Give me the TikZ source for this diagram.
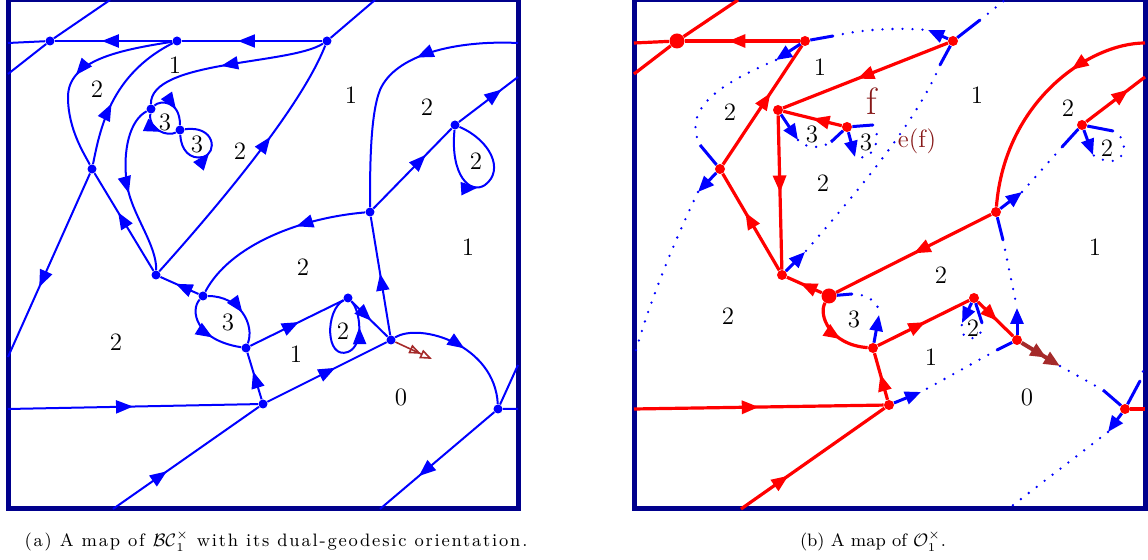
\documentclass[tikz,border=0pt]{standalone}
\usepackage{amsfonts,amssymb,amsmath}
\usepackage{fontspec}
\newfontfamily\captfont[LetterSpace=10]{Latin Modern Roman}
\usepackage{xcolor}
\usepackage{tikz}
\usetikzlibrary{arrows.meta,decorations.markings}
\definecolor{framecol}{RGB}{0,0,140}
\definecolor{rootcol}{RGB}{165,42,42}
\definecolor{fcol}{RGB}{135,25,25}
\tikzset{
arr/.style={postaction={decorate},decoration={markings,mark=at position #1 with {\arrow{Triangle[length=8.5pt,width=6.5pt]}}}},
bedge/.style={blue,line width=1pt},
redge/.style={red,line width=1.6pt},
bvtx/.style={circle,fill=blue,inner sep=0pt,minimum size=4.5pt},
rvtx/.style={circle,fill=red,inner sep=0pt,minimum size=5pt},
bigvtx/.style={circle,fill=red,inner sep=0pt,minimum size=7.5pt},
stub/.style={blue,line width=1.5pt},
barrow/.style={blue,line width=1.5pt,-{Triangle[length=8pt,width=6.5pt]}},
dots/.style={blue,line width=1.3pt,line cap=round,dash pattern=on 0pt off 5pt},
lab/.style={font=\fontsize{12.5}{14}\selectfont},
capt/.style={font=\fontsize{9}{11}\selectfont}
}
\begin{document}
\begin{tikzpicture}[x=0.5pt,y=-0.5pt]
\useasboundingbox (0,0) rectangle (1148,560);
%% (a)
\draw[framecol,line width=2.5pt](8,0) rectangle (518,509);
\node[bvtx](l1) at (50,41){}; \node[bvtx](l2) at (177,41){}; \node[bvtx](l3) at (327,41){};
\node[bvtx](l4) at (151,109){}; \node[bvtx](l5) at (180,130){}; \node[bvtx](l6) at (92,169){};
\node[bvtx](l7) at (455,125){}; \node[bvtx](l8) at (370,212){}; \node[bvtx](l9) at (156,275){};
\node[bvtx](l10) at (203,296){}; \node[bvtx](l11) at (246,348){}; \node[bvtx](l12) at (348,298){};
\node[bvtx](l13) at (391,340){}; \node[bvtx](l14) at (263,404){}; \node[bvtx](l15) at (498,409){};
\coordinate (lb1) at (8,43); \coordinate (lb2) at (8,74); \coordinate (lb3) at (8,357);
\coordinate (lb4) at (8,409); \coordinate (lt1) at (110,0); \coordinate (lt2) at (375,0);
\coordinate (lr1) at (518,43); \coordinate (lr2) at (518,77); \coordinate (lr3) at (518,409);
\coordinate (lr4) at (518,365); \coordinate (ld1) at (113,509); \coordinate (ld2) at (380,509);
\coordinate (lroot) at (432,359);
\draw[bedge](lb1)--(l1);
\draw[bedge,arr=0.6](l2)--(l1);
\draw[bedge,arr=0.6](l3)--(l2);
\draw[bedge](lb2)--(l1)--(lt1);
\draw[bedge](l3)--(lt2);
\draw[bedge,arr=0.52](l2) .. controls (120,50) and (68,60) .. (68,97) .. controls (68,130) and (85,155) .. (l6);
\draw[bedge,arr=0.42](l6) .. controls (100,130) and (110,75) .. (l2);
\draw[bedge,arr=0.6](l9)--(l6);
\draw[bedge,arr=0.62](l6)--(lb3);
\draw[bedge,arr=0.55](l3) .. controls (290,65) and (150,60) .. (l4);
\draw[bedge,arr=0.6](l4) .. controls (160,100) and (180,100) .. (l5);
\draw[bedge,arr=0.6](l4) .. controls (148,130) and (168,137) .. (l5);
\draw[bedge,arr=0.5](l5) .. controls (181,150) and (190,160) .. (203,157) .. controls (218,153) and (215,125) .. (l5);
\draw[bedge,arr=0.52](l4) .. controls (130,120) and (122,150) .. (127,185) .. controls (132,215) and (157,245) .. (l9);
\draw[bedge,arr=0.62](l9) .. controls (210,215) and (300,110) .. (l3);
\draw[bedge,arr=0.38](lr1) .. controls (455,40) and (395,55) .. (380,90) .. controls (370,115) and (370,170) .. (l8);
\draw[bedge,arr=0.67](l8)--(l7);
\draw[bedge,arr=0.72](l7)--(lr2);
\draw[bedge,arr=0.45](l7) .. controls (450,175) and (470,195) .. (485,185) .. controls (505,170) and (490,140) .. (l7);
\draw[bedge,arr=0.38](l8) .. controls (300,218) and (230,245) .. (l10);
\draw[bedge,arr=0.52](l13)--(l8);
\draw[bedge,arr=0.6](l10)--(l9);
\draw[bedge,arr=0.55](l10) .. controls (240,296) and (255,325) .. (l11);
\draw[bedge,arr=0.6](l10) .. controls (190,310) and (195,340) .. (l11);
\draw[bedge,arr=0.6](l14)--(l11);
\draw[bedge,arr=0.52](l11)--(l12);
\draw[bedge,arr=0.78](l12) .. controls (325,310) and (325,360) .. (348,352) .. controls (365,345) and (360,310) .. (l12);
\draw[bedge,arr=0.55](l12)--(l13);
\draw[bedge,arr=0.57](l14)--(l13);
\draw[bedge,arr=0.52](l13) .. controls (420,322) and (495,345) .. (l15);
\draw[bedge](l15)--(lr3) (l15)--(lr4);
\draw[bedge,arr=0.66](l15)--(ld2);
\draw[bedge,arr=0.5](lb4)--(l14);
\draw[bedge,arr=0.37](ld1)--(l14);
\draw[rootcol,line width=0.8pt,-{Triangle[open,length=6pt,width=4.5pt] Triangle[open,length=6pt,width=4.5pt]}](l13)--(lroot);
\foreach \x/\y/\t [count=\i] in {175/65/1,97/89/2,165/122/3,197/144/3,240/151/2,351/95/1,427/107/2,476/161/2,
  468/247/1,303/267/2,228/322/3,343/331/2,296/354/1,116/342/2,401/397/0}
  \node[lab](la\i) at (\x,\y){\t};
\node[capt](capa) at (276,541){\captfont(a) A map of $\mathcal{BC}_1^{\times}$ with its dual-geodesic orientation.};
%% (b)
\draw[framecol,line width=2.5pt](634,0) rectangle (1145,509);
\node[bigvtx](r1) at (677,41){}; \node[rvtx](r2) at (805,41){}; \node[rvtx](r3) at (953,41){};
\node[rvtx](r4) at (778,110){}; \node[rvtx](r5) at (847,127){}; \node[rvtx](r6) at (720,169){};
\node[rvtx](r7) at (1082,125){}; \node[rvtx](r8) at (996,212){}; \node[rvtx](r9) at (782,275){};
\node[bigvtx](r10) at (829,296){}; \node[rvtx](r11) at (873,348){}; \node[rvtx](r12) at (974,298){};
\node[rvtx](r13) at (1017,340){}; \node[rvtx](r14) at (889,405){}; \node[rvtx](r15) at (1125,409){};
\coordinate (rb1) at (634,43); \coordinate (rb2) at (634,74); \coordinate (rb3) at (634,409);
\coordinate (rb4) at (634,357); \coordinate (rt1) at (738,0); \coordinate (rt2) at (1005,0);
\coordinate (rr1) at (1145,43); \coordinate (rr2) at (1145,77); \coordinate (rr3) at (1145,409);
\coordinate (rr4) at (1145,365); \coordinate (rd1) at (741,509); \coordinate (rd2) at (1008,509);
\coordinate (rroot) at (1060,366);
\draw[redge](rb1)--(r1);
\draw[redge](rb2)--(r1)--(rt1);
\draw[redge,arr=0.62](r2)--(r1);
\draw[redge,arr=0.6](r6)--(r2);
\draw[redge,arr=0.55](r3)--(r4);
\draw[redge,arr=0.5](r5)--(r4);
\draw[redge,arr=0.5](r4)--(r9);
\draw[redge,arr=0.6](r9)--(r6);
\draw[redge,arr=0.33](rr1) .. controls (1090,43) and (1005,100) .. (r8);
\draw[redge,arr=0.72](r7)--(rr2);
\draw[redge,arr=0.5](r8)--(r10);
\draw[redge,arr=0.62](r10)--(r9);
\draw[redge,arr=0.6](r10) .. controls (818,315) and (830,345) .. (r11);
\draw[redge,arr=0.55](r14)--(r11);
\draw[redge,arr=0.52](r11)--(r12);
\draw[redge,arr=0.55](r12)--(r13);
\draw[redge,arr=0.5](rb3)--(r14);
\draw[redge,arr=0.33](rd1)--(r14);
\draw[redge](r15)--(rr3);
\coordinate (s1) at (833,36); \coordinate (q1) at (928,30);
\coordinate (s2) at (980,20); \coordinate (s3) at (940,65); \coordinate (q2) at (805,252);
\coordinate (q3) at (776,60); \coordinate (s4) at (700,145); \coordinate (q4) at (698,192);
\coordinate (q5) at (798,140); \coordinate (s5) at (831,142); \coordinate (s6) at (873,125);
\coordinate (q6) at (855,157); \coordinate (q7) at (1022,192); \coordinate (s7) at (1062,147);
\coordinate (s8) at (1113,131); \coordinate (q8) at (1093,155); \coordinate (s9) at (1003,240);
\coordinate (q9) at (1017,308); \coordinate (s10) at (852,294); \coordinate (q10) at (879,315);
\coordinate (q11) at (962,323); \coordinate (s11) at (982,323); \coordinate (s12) at (997,350);
\coordinate (q12) at (921,392); \coordinate (s13) at (1103,390); \coordinate (s14) at (1140,381);
\coordinate (q13) at (1108,432);
\draw[stub](r2)--(s1) (r3)--(s2) (r3)--(s3) (r6)--(s4) (r5)--(s5) (r5)--(s6) (r7)--(s7) (r7)--(s8)
  (r8)--(s9) (r10)--(s10) (r12)--(s11) (r13)--(s12) (r15)--(s13) (r15)--(s14);
\draw[barrow](r3)--(q1); \draw[barrow](r9)--(q2); \draw[barrow](r2)--(q3); \draw[barrow](r6)--(q4);
\draw[barrow](r4)--(q5); \draw[barrow](r5)--(q6); \draw[barrow](r8)--(q7); \draw[barrow](r7)--(q8);
\draw[barrow](r13)--(q9); \draw[barrow](r11)--(q10); \draw[barrow](r12)--(q11); \draw[barrow](r14)--(q12);
\draw[barrow](r15)--(q13);
\draw[dots](s1) .. controls (870,28) and (900,28) .. (q1);
\draw[dots](s2)--(rt2);
\draw[dots](s3) .. controls (915,125) and (850,200) .. (q2);
\draw[dots](q3) .. controls (730,80) and (680,105) .. (s4);
\draw[dots](q4) .. controls (675,240) and (650,300) .. (rb4);
\draw[dots](q5) .. controls (808,150) and (822,148) .. (s5);
\draw[dots](s6) .. controls (882,135) and (875,162) .. (q6);
\draw[dots](q7)--(s7);
\draw[dots](s8) .. controls (1133,140) and (1125,175) .. (q8);
\draw[dots](s9)--(q9);
\draw[dots](s10) .. controls (868,294) and (880,303) .. (q10);
\draw[dots](s11) .. controls (985,342) and (958,345) .. (q11);
\draw[dots](s12)--(q12);
\draw[dots](rroot)--(s13);
\draw[dots](s14)--(rr4);
\draw[dots](q13)--(rd2);
\draw[rootcol,line width=2pt,-{Triangle[length=8pt,width=6.5pt] Triangle[length=8pt,width=6.5pt]}](r13)--(rroot);
\foreach \x/\y/\t [count=\i] in {820/67/1,730/112/2,812/134/3,866/142/3,823/183/2,977/95/1,1068/108/2,
  1107/148/2,1095/247/1,941/275/2,854/319/3,973/328/2,931/357/1,728/316/2,1027/397/0}
  \node[lab](lb\i) at (\x,\y){\t};
\node[fcol,font=\fontsize{19}{21}\selectfont](flab) at (872,101){f};
\node[fcol,lab](eflab) at (917,141){e(f)};
\node[capt](capb) at (873,541){(b) A map of $\mathcal{O}_1^{\times}$.};
\end{tikzpicture}
\end{document}
